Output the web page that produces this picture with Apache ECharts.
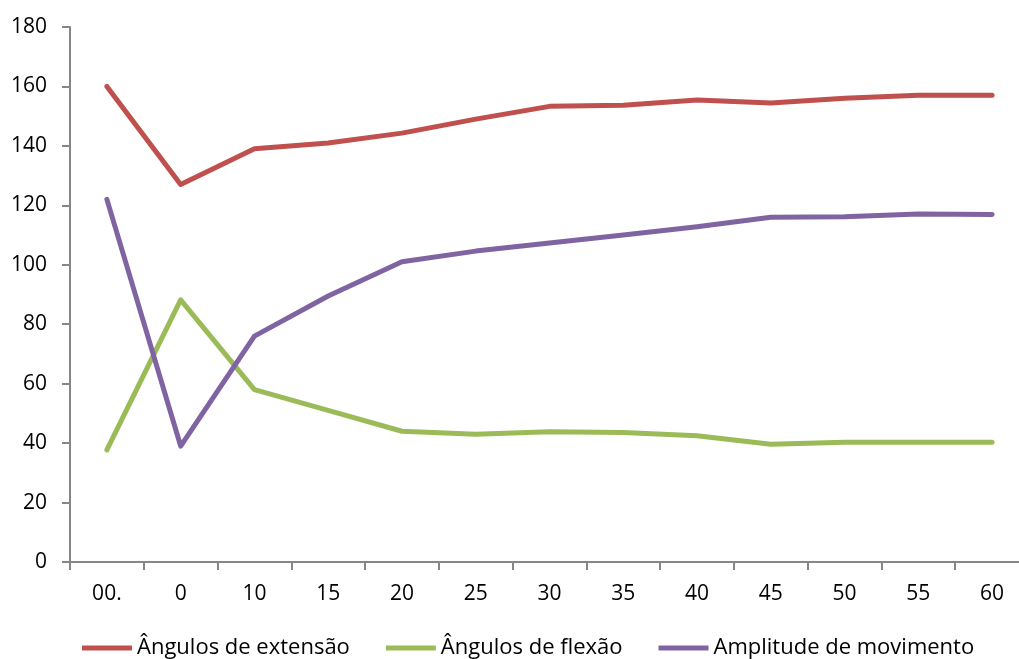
<!DOCTYPE html>
<html>
<head>
<meta charset="utf-8">
<script src="https://cdn.jsdelivr.net/npm/echarts@6/dist/echarts.min.js"></script>
<style>html,body{margin:0;padding:0;background:#fff;overflow:hidden;width:1019px;height:659px}#c{width:1029px;height:659px}</style>
</head>
<body>
<div id="c"></div>
<script>
var categories = ['00.', '0', '10', '15', '20', '25', '30', '35', '40', '45', '50', '55', '60'];
var extensao = [160, 127, 139, 141, 144.3, 149, 153.3, 153.7, 155.4, 154.4, 156, 157, 157];
var flexao = [37.7, 88.2, 58, 51, 44, 43, 43.8, 43.6, 42.5, 39.6, 40.3, 40.3, 40.3];
var amplitude = [122, 39, 76, 89.5, 101, 104.6, 107.3, 110, 112.8, 116, 116.2, 117.1, 116.9];
var yTicks = {min: 0, max: 180, interval: 20};

var font = '"Open Sans", sans-serif';
var chart = echarts.init(document.getElementById('c'));
function ser(name, data, color) {
  return {name: name, type: 'line', data: data, symbol: 'none', smooth: false,
    lineStyle: {width: 5, color: color, cap: 'round', join: 'round'}, itemStyle: {color: color}};
}
chart.setOption({
  animation: false,
  grid: {left: 70, top: 27, height: 535, right: 0},
  xAxis: {
    type: 'category', data: categories, boundaryGap: true,
    axisLine: {lineStyle: {color: '#868686', width: 2}},
    axisTick: {show: true, length: 8, lineStyle: {color: '#868686', width: 2}},
    axisLabel: {color: '#000', fontFamily: font, fontSize: 21, margin: 22, interval: 0}
  },
  yAxis: {
    type: 'value', min: yTicks.min, max: yTicks.max, interval: yTicks.interval,
    splitLine: {show: false},
    axisLine: {show: true, lineStyle: {color: '#868686', width: 2}},
    axisTick: {show: true, length: 8, inside: false, lineStyle: {color: '#868686', width: 2}},
    axisLabel: {color: '#000', fontFamily: font, fontSize: 21, margin: 23}
  },
  legend: {
    left: 82, top: 637, itemWidth: 50, itemHeight: 5, itemGap: 36,
    icon: 'rect', padding: 0,
    textStyle: {color: '#000', fontFamily: font, fontSize: 22},
    data: ['Ângulos de extensão', 'Ângulos de flexão', 'Amplitude de movimento']
  },
  series: [
    ser('Ângulos de extensão', extensao, '#C0504D'),
    ser('Ângulos de flexão', flexao, '#9BBB59'),
    ser('Amplitude de movimento', amplitude, '#8064A2')
  ]
});
</script>
</body>
</html>
